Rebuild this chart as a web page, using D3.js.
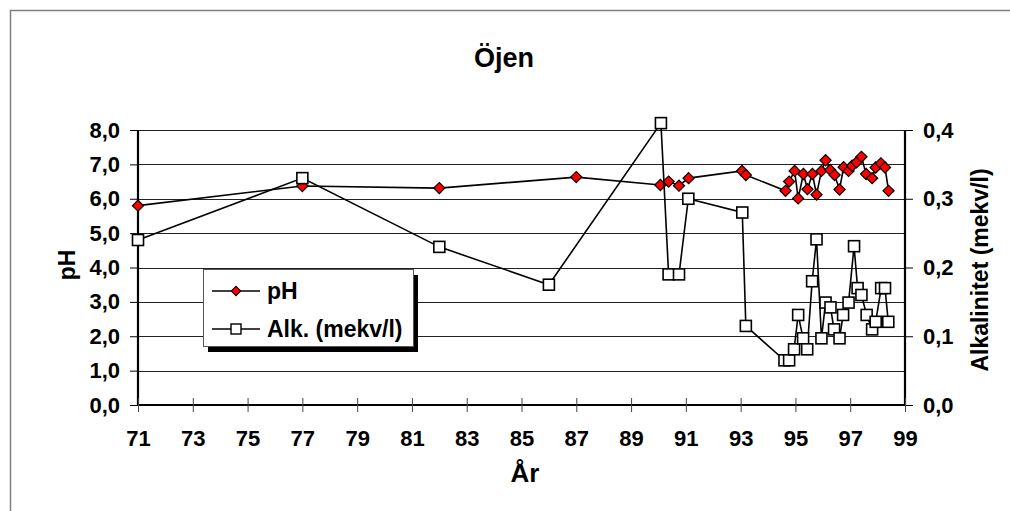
<!DOCTYPE html>
<html>
<head>
<meta charset="utf-8">
<script src="https://cdn.jsdelivr.net/npm/d3@7"></script>
<style>
  body { margin: 0; background: #fff; }
  svg { display: block; font-family: Arial, "Liberation Sans", sans-serif; font-weight: bold; }
</style>
</head>
<body>
<script>
// data
const phYear = [71, 77, 82, 87, 90.07, 90.37, 90.75, 91.1, 93.05, 93.19, 94.64, 94.77, 94.97, 95.1, 95.29, 95.44, 95.62, 95.77, 95.95, 96.1, 96.27, 96.43, 96.61, 96.76, 96.94, 97.07, 97.23, 97.41, 97.58, 97.8, 97.93, 98.12, 98.27, 98.4];
const phValue = [5.8, 6.37, 6.31, 6.63, 6.4, 6.5, 6.38, 6.6, 6.81, 6.69, 6.23, 6.5, 6.81, 6.01, 6.72, 6.28, 6.72, 6.12, 6.81, 7.12, 6.84, 6.69, 6.27, 6.92, 6.81, 6.96, 7.06, 7.22, 6.72, 6.6, 6.91, 7.03, 6.91, 6.23];

const alkYear = [71, 77, 82, 86, 90.09, 90.37, 90.75, 91.09, 93.06, 93.19, 94.6, 94.77, 94.95, 95.1, 95.28, 95.43, 95.61, 95.77, 95.95, 96.1, 96.28, 96.41, 96.61, 96.74, 96.94, 97.14, 97.27, 97.41, 97.6, 97.8, 97.93, 98.13, 98.27, 98.39];
const alkValue = [0.24, 0.33, 0.23, 0.175, 0.41, 0.19, 0.19, 0.30, 0.28, 0.115, 0.065, 0.065, 0.081, 0.131, 0.097, 0.081, 0.18, 0.241, 0.097, 0.149, 0.142, 0.11, 0.097, 0.131, 0.149, 0.231, 0.17, 0.16, 0.131, 0.11, 0.121, 0.17, 0.17, 0.121];

const xTicks = d3.range(71, 100, 2);
const phTicks = d3.range(0, 9, 1);
const alkTicks = [0, 0.1, 0.2, 0.3, 0.4];

const title = "Öjen";
const xTitle = "År";
const yTitle = "pH";
const y2Title = "Alkalinitet (mekv/l)";
const seriesNames = ["pH", "Alk. (mekv/l)"];

const W = 1010, H = 511;
const plot = { left: 138, right: 905, top: 130, bottom: 405 };

const fmt = d => d3.format(".1f")(d).replace(".", ",");

const x = d3.scaleLinear().domain([71, 99]).range([plot.left, plot.right]);
const y = d3.scaleLinear().domain([0, 8]).range([plot.bottom, plot.top]);
const y1 = d3.scaleLinear().domain([0, 0.4]).range([plot.bottom, plot.top]);

const svg = d3.select("body").append("svg")
  .attr("width", W)
  .attr("height", H);

// outer chart frame
svg.append("rect")
  .attr("x", 10.5).attr("y", 10.5)
  .attr("width", W + 20).attr("height", H + 20)
  .attr("fill", "#fff")
  .attr("stroke", "#808080")
  .attr("stroke-width", 1.5);

// gridlines
svg.append("g")
  .selectAll("line")
  .data(phTicks.filter(d => d > 0))
  .enter().append("line")
  .attr("x1", plot.left).attr("x2", plot.right)
  .attr("y1", d => Math.round(y(d)) + 0.5)
  .attr("y2", d => Math.round(y(d)) + 0.5)
  .attr("stroke", "#222")
  .attr("stroke-width", 1);

// left axis
const yAxis = svg.append("g")
  .attr("transform", "translate(" + plot.left + ",0)")
  .call(d3.axisLeft(y).tickValues(phTicks).tickFormat(fmt).tickSize(8).tickPadding(10));

// right axis
const yAxisRight = svg.append("g")
  .attr("transform", "translate(" + plot.right + ",0)")
  .call(d3.axisRight(y1).tickValues(alkTicks).tickFormat(fmt).tickSize(8).tickPadding(10));

// bottom axis, ticks cross the line
const xAxis = svg.append("g")
  .attr("transform", "translate(0," + plot.bottom + ")")
  .call(d3.axisBottom(x).tickValues(xTicks).tickFormat(d3.format("d")).tickSize(7).tickPadding(26));
xAxis.selectAll(".tick line").attr("y1", -7).attr("stroke", "#444");

[yAxis, yAxisRight, xAxis].forEach(a => {
  a.select(".domain").attr("stroke", "#000").attr("stroke-width", 2.2);
  a.selectAll(".tick text")
    .attr("fill", "#000")
    .style("font-size", "22px")
    .style("font-family", "Arial, 'Liberation Sans', sans-serif")
    .style("font-weight", "bold");
});
yAxis.select(".domain").attr("d", "M" + 0 + "," + plot.bottom + "V" + plot.top);
yAxisRight.select(".domain").attr("d", "M" + 0 + "," + plot.bottom + "V" + plot.top);
xAxis.select(".domain").attr("d", "M" + plot.left + ",0H" + plot.right);
xAxis.selectAll(".tick text").attr("dy", "0.35em");

// pH series
const phData = phYear.map((d, i) => ({ year: d, v: phValue[i] }));
const alkData = alkYear.map((d, i) => ({ year: d, v: alkValue[i] }));

const phLine = d3.line().x(d => x(d.year)).y(d => y(d.v));
const alkLine = d3.line().x(d => x(d.year)).y(d => y1(d.v));

svg.append("path")
  .attr("d", phLine(phData))
  .attr("fill", "none")
  .attr("stroke", "#000")
  .attr("stroke-width", 1.6);

const diamond = d3.symbol().type(d3.symbolSquare).size(62);

svg.append("g")
  .selectAll("path")
  .data(phData)
  .enter().append("path")
  .attr("d", diamond)
  .attr("transform", d => "translate(" + x(d.year) + "," + y(d.v) + ") rotate(45)")
  .attr("fill", "#ff0000")
  .attr("stroke", "#000")
  .attr("stroke-width", 1.2);

// alkalinity series
svg.append("path")
  .attr("d", alkLine(alkData))
  .attr("fill", "none")
  .attr("stroke", "#000")
  .attr("stroke-width", 1.6);

svg.append("g")
  .selectAll("rect")
  .data(alkData)
  .enter().append("rect")
  .attr("x", d => x(d.year) - 5.5)
  .attr("y", d => y1(d.v) - 5.5)
  .attr("width", 11).attr("height", 11)
  .attr("fill", "#fff")
  .attr("stroke", "#000")
  .attr("stroke-width", 1.6);

// titles
svg.append("text")
  .attr("x", 504).attr("y", 67)
  .attr("text-anchor", "middle")
  .style("font-size", "27px")
  .text(title);

svg.append("text")
  .attr("x", 525).attr("y", 482)
  .attr("text-anchor", "middle")
  .style("font-size", "26px")
  .text(xTitle);

svg.append("text")
  .attr("transform", "translate(75,265) rotate(-90)")
  .attr("text-anchor", "middle")
  .style("font-size", "23px")
  .text(yTitle);

svg.append("text")
  .attr("transform", "translate(988,270) rotate(-90)")
  .attr("text-anchor", "middle")
  .style("font-size", "23px")
  .text(y2Title);

// legend
const lg = svg.append("g").attr("transform", "translate(203,269)");
lg.append("rect")
  .attr("x", 5).attr("y", 6)
  .attr("width", 210).attr("height", 77)
  .attr("fill", "#000");
lg.append("rect")
  .attr("x", 0.5).attr("y", 0.5)
  .attr("width", 210).attr("height", 77)
  .attr("fill", "#fff")
  .attr("stroke", "#555")
  .attr("stroke-width", 1);

const rows = lg.selectAll(".row")
  .data(seriesNames)
  .enter().append("g")
  .attr("class", "row")
  .attr("transform", (d, i) => "translate(0," + (22 + i * 38) + ")");

rows.append("line")
  .attr("x1", 9).attr("x2", 57)
  .attr("stroke", "#000")
  .attr("stroke-width", 1.6);

rows.filter((d, i) => i === 0).append("path")
  .attr("d", d3.symbol().type(d3.symbolSquare).size(44))
  .attr("transform", "translate(33,0) rotate(45)")
  .attr("fill", "#ff0000")
  .attr("stroke", "#000");

rows.filter((d, i) => i === 1).append("rect")
  .attr("x", 28).attr("y", -5)
  .attr("width", 10).attr("height", 10)
  .attr("fill", "#fff")
  .attr("stroke", "#000")
  .attr("stroke-width", 1.4);

rows.append("text")
  .attr("x", 64).attr("dy", "0.35em")
  .style("font-size", "23px")
  .text(d => d);
</script>
</body>
</html>
